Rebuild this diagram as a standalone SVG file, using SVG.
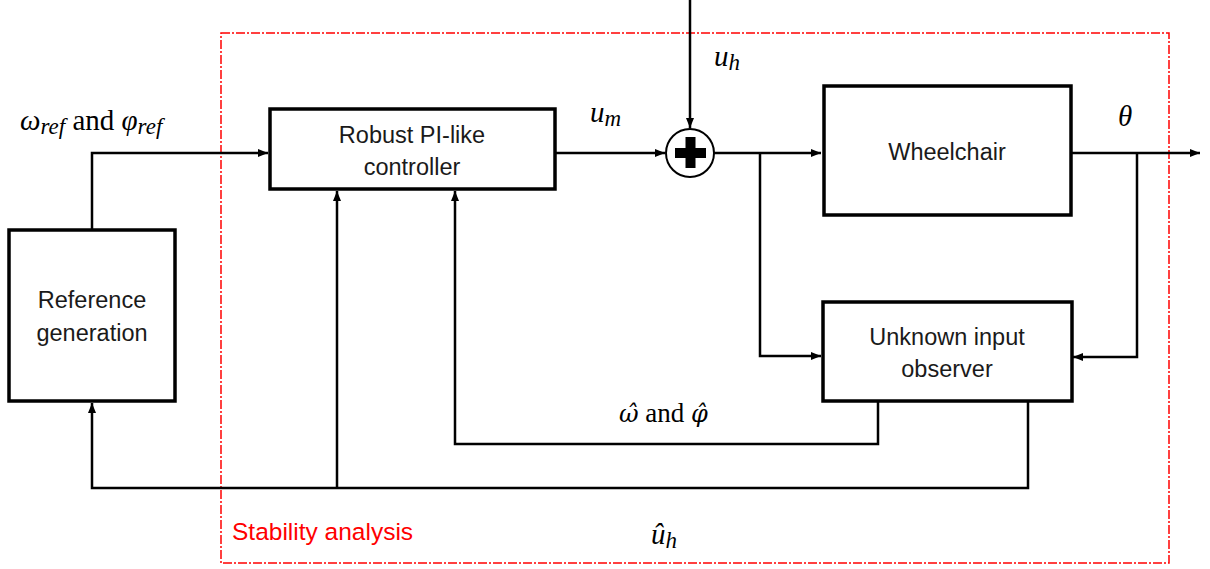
<svg xmlns="http://www.w3.org/2000/svg" width="1210" height="569" viewBox="0 0 1210 569">
<defs>
<marker id="arr" viewBox="0 0 10 10" refX="10" refY="5" markerWidth="10" markerHeight="10" markerUnits="userSpaceOnUse" orient="auto">
<path d="M0,1 L10,5 L0,9 Z" fill="#000"/>
</marker>
</defs>
<style>
.box{fill:#fff;stroke:#000;stroke-width:3.5}
.lbl{font-family:"Liberation Sans",Arial,sans-serif;font-size:23.5px;fill:#1a1a1a;text-anchor:middle}
.ln{fill:none;stroke:#000;stroke-width:2.5}
.math{font-family:"Liberation Serif","DejaVu Serif",serif;font-size:29px;fill:#000}
.it{font-style:italic}
.sub{font-style:italic;font-size:23px}
</style>
<rect width="1210" height="569" fill="#fff"/>
<rect id="stability" x="221" y="33" width="948" height="530" fill="none" stroke="#f00" stroke-width="1.5" stroke-dasharray="9 2 2 2"/>
<text x="232" y="540" font-family="Liberation Sans,Arial,sans-serif" font-size="24.5" fill="#f00">Stability analysis</text>
<g id="connectors">
<path class="ln" d="M92,229 V153 H268" marker-end="url(#arr)"/>
<path class="ln" d="M555,153 H665" marker-end="url(#arr)"/>
<path class="ln" d="M690,0 V128" marker-end="url(#arr)"/>
<path class="ln" d="M714,153 H821" marker-end="url(#arr)"/>
<path class="ln" d="M760,153 V356 H821" marker-end="url(#arr)"/>
<path class="ln" d="M1071,153 H1200" marker-end="url(#arr)"/>
<path class="ln" d="M1137,153 V357 H1073" marker-end="url(#arr)"/>
<path class="ln" d="M878,401 V444 H455 V191" marker-end="url(#arr)"/>
<path class="ln" d="M1028,401 V488 H92 V403" marker-end="url(#arr)"/>
<path class="ln" d="M337,488 V191" marker-end="url(#arr)"/>
</g>
<g id="refgen">
<rect class="box" x="9" y="230" width="166" height="171"/>
<text class="lbl" x="92" y="308">Reference</text>
<text class="lbl" x="92" y="341">generation</text>
</g>
<g id="controller">
<rect class="box" x="270" y="109" width="285" height="80" stroke-width="3"/>
<text class="lbl" x="412" y="143">Robust PI-like</text>
<text class="lbl" x="412" y="175">controller</text>
</g>
<g id="sum">
<circle cx="690" cy="153" r="24" fill="#fff" stroke="#000" stroke-width="2"/>
<rect x="675" y="148" width="31" height="10" fill="#000"/>
<rect x="685.5" y="137" width="10" height="31" fill="#000"/>
</g>
<g id="wheelchair">
<rect class="box" x="824" y="86" width="247" height="129" stroke-width="4"/>
<text class="lbl" x="947" y="160">Wheelchair</text>
</g>
<g id="observer">
<rect class="box" x="823" y="302" width="249" height="99"/>
<text class="lbl" x="947" y="345">Unknown input</text>
<text class="lbl" x="947" y="377">observer</text>
</g>
<g id="labels">
<text class="math" x="20" y="130"><tspan class="it">ω</tspan><tspan class="sub" dy="4">ref</tspan><tspan dy="-4"> and </tspan><tspan class="it">φ</tspan><tspan class="sub" dy="4">ref</tspan></text>
<text class="math" x="590" y="122"><tspan class="it">u</tspan><tspan class="sub" dy="4">m</tspan></text>
<text class="math" x="714" y="66"><tspan class="it">u</tspan><tspan class="sub" dy="4">h</tspan></text>
<text class="math it" x="1118" y="126">θ</text>
<text x="619" y="422" font-size="24" font-family="'DejaVu Serif',serif"><tspan font-style="italic">ω̂</tspan><tspan font-family="'Liberation Serif',serif" font-size="27"> and </tspan><tspan font-style="italic">φ̂</tspan></text>
<text class="math" x="651" y="544"><tspan class="it">û</tspan><tspan class="sub" dy="4">h</tspan></text>
</g>
</svg>
